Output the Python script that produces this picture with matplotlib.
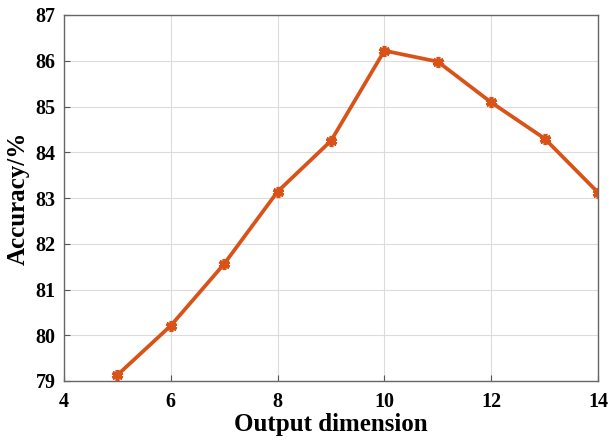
import matplotlib.pyplot as plt

dims = [5, 6, 7, 8, 9, 10, 11, 12, 13, 14]
acc = [79.13, 80.21, 81.56, 83.14, 84.25, 86.22, 85.98, 85.09, 84.30, 83.12]

plt.rcParams['font.family'] = 'Liberation Serif'
plt.rcParams['font.weight'] = 'bold'

fig = plt.figure(figsize=(6.09, 4.43), dpi=100)
ax = fig.add_axes([64 / 609, 1 - 381 / 443, (598 - 64) / 609, (381 - 15) / 443])

ax.plot(dims, acc, color='#D95319', linewidth=2.7,
        marker=(6, 2, 0), markersize=8, markeredgewidth=2.6, markeredgecolor='#D95319')

ax.set_xlim(4, 14)
ax.set_ylim(79, 87)
ax.set_xticks(range(4, 15, 2))
ax.set_yticks(range(79, 88))
ax.grid(True, color='#dcdcdc', linewidth=0.8)
ax.set_axisbelow(True)
ax.tick_params(direction='in', length=4, color='#555555', labelsize=14.5)
ax.tick_params(axis='x', pad=8)
ax.tick_params(axis='y', pad=6)
for s in ax.spines.values():
    s.set_color('#666666')
    s.set_linewidth(1.0)
for lab in ax.get_xticklabels() + ax.get_yticklabels():
    lab.set_fontweight('bold')

ax.set_xlabel('Output dimension', fontsize=18, fontweight='bold', labelpad=1)
ax.set_ylabel('Accuracy/%', fontsize=18, fontweight='bold', labelpad=4)

fig.savefig('out.png', dpi=100)
